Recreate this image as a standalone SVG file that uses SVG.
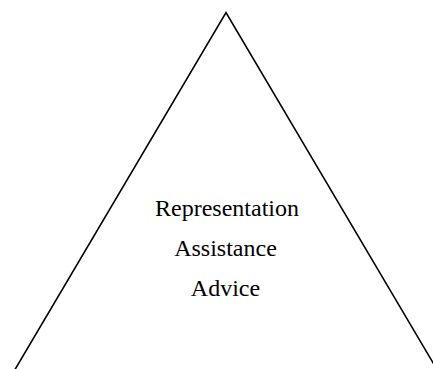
<svg xmlns="http://www.w3.org/2000/svg" width="433" height="369" viewBox="0 0 433 369">
<style>
.edge{fill:none;stroke:#000;stroke-width:1.6}
.lbl{font-family:"Liberation Serif","Times New Roman",serif;font-size:24px;fill:#000;text-anchor:middle}
</style>
<rect width="433" height="369" fill="#fff"/>
<g id="connectors">
<path class="edge" d="M15,369.5 L226,12.5 L437,369.5"/>
</g>
<g id="node-labels">
<text class="lbl" x="227" y="216">Representation</text>
<text class="lbl" x="225.5" y="256">Assistance</text>
<text class="lbl" x="225.5" y="296">Advice</text>
</g>
</svg>
